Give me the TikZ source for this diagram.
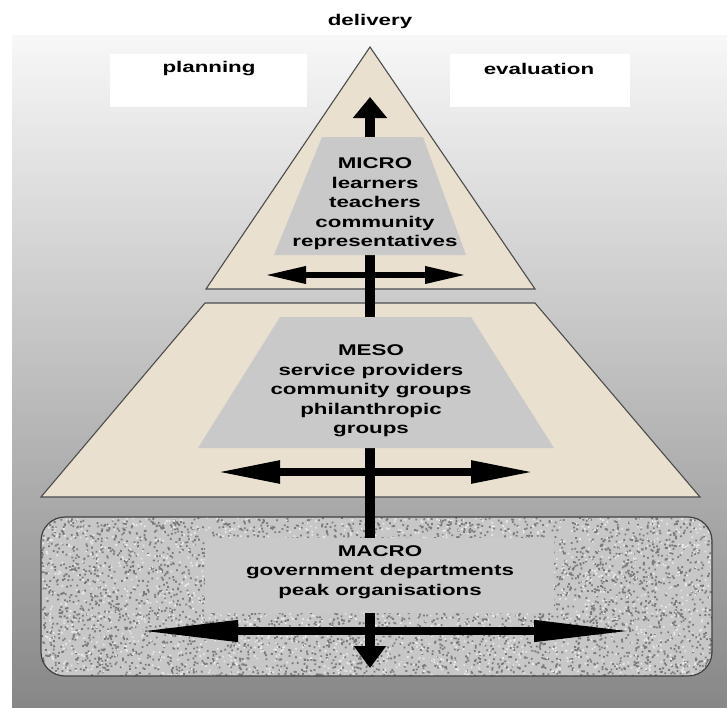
\documentclass[tikz,border=0pt]{standalone}
\usepackage{fontspec}
\setmainfont{Liberation Sans}
\usetikzlibrary{arrows.meta}

\definecolor{tanfill}{RGB}{233,224,208}
\definecolor{boxgrey}{RGB}{201,201,201}

\begin{document}
\begin{tikzpicture}[x=1pt, y=-1pt,
    level/.style={fill=tanfill, draw=black!70, line width=1.1pt},
    greybox/.style={fill=boxgrey},
    txt/.style={font=\bfseries\fontsize{15.5}{19.5}\selectfont, align=center, xscale=1.44, inner sep=0pt},
    twoway/.style={line width=#1}]
  \useasboundingbox (0,0) rectangle (727,707);

  % backdrop
  \shade[top color=black!3, middle color=black!15, bottom color=black!47] (12,35) rectangle (727,707);
  \fill[white] (110,54) rectangle (307,107);
  \fill[white] (450,54) rectangle (630,107);

  \node[txt] (delivery) at (370,21) {delivery};
  \node[txt] (planning) at (209,69) {planning};
  \node[txt] (evaluation) at (539,69) {evaluation};

  % the three levels
  \draw[level] (370,47) -- (535,289) -- (206,289) -- cycle;
  \draw[level] (205,303) -- (535,303) -- (700,497) -- (41,497) -- cycle;

  \fill[black!22, rounded corners=24] (41,517) rectangle (712,676);
  \begin{scope}
    \clip[rounded corners=24] (41,517) rectangle (712,676);
    \pgfmathsetseed{11}
    \fill[black!52] \foreach \i in {1,...,4500} {
      (41+671*rnd, 517+159*rnd) rectangle ++(1.8,1.8)};
    \fill[white!92!black] \foreach \i in {1,...,2000} {
      (41+671*rnd, 517+159*rnd) rectangle ++(1.6,1.6)};
  \end{scope}
  \draw[draw=black!75, line width=1.2pt, rounded corners=24] (41,517) rectangle (712,676);

  % up and down through all levels
  \coordinate (up) at (370,97);
  \coordinate (down) at (370,668);
  \draw[twoway=10pt, {Triangle[length=22pt,width=31pt]}-{Triangle[length=21pt,width=33pt]}] (down) -- (up);

  \fill[greybox] (322,137) -- (423,137) -- (466,255) -- (274,255) -- cycle;
  \fill[greybox] (280,317) -- (471,317) -- (554,448) -- (198,448) -- cycle;
  \fill[greybox] (205,538) rectangle (554,613);

  \node[txt] (micro) at (375,204) {MICRO\\learners\\teachers\\community\\representatives};
  \node[txt] (meso) at (371,391) {MESO\\service providers\\community groups\\philanthropic\\groups};
  \node[txt] (macro) at (380,572) {MACRO\\government departments\\peak organisations};

  % across each level
  \coordinate (microL) at (264,275);
  \coordinate (microR) at (467,275);
  \coordinate (mesoL) at (216,472);
  \coordinate (mesoR) at (535,472);
  \coordinate (macroL) at (140,631);
  \coordinate (macroR) at (632,631);
  \draw[twoway=6.5pt, {Triangle[length=42pt,width=16pt]}-{Triangle[length=42pt,width=16pt]}] (microL) -- (microR);
  \draw[twoway=8.5pt, {Triangle[length=64pt,width=21pt]}-{Triangle[length=64pt,width=21pt]}] (mesoL) -- (mesoR);
  \draw[twoway=7.5pt, {Triangle[length=98pt,width=20pt]}-{Triangle[length=98pt,width=20pt]}] (macroL) -- (macroR);
\end{tikzpicture}
\end{document}
